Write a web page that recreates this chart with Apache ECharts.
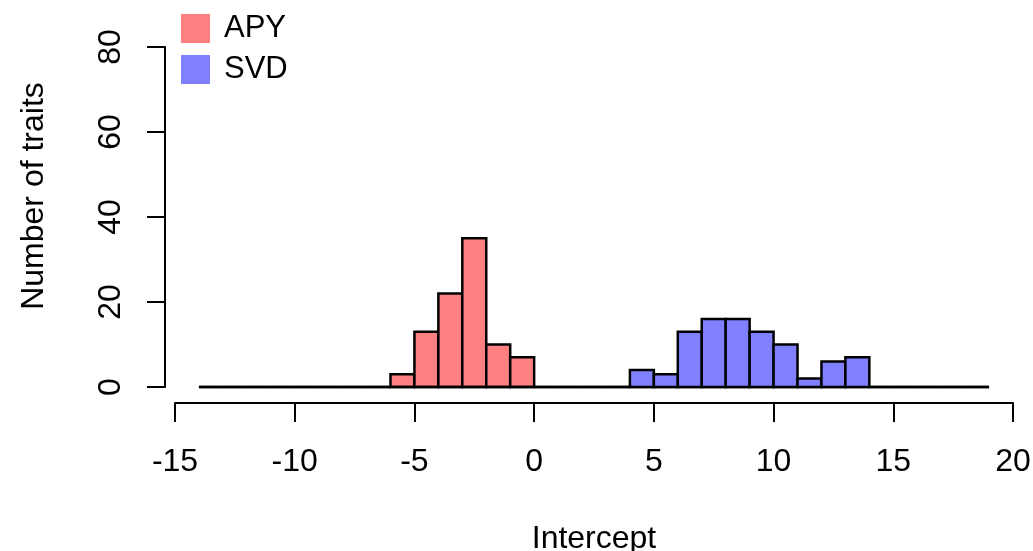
<!DOCTYPE html>
<html>
<head>
<meta charset="utf-8">
<script src="https://cdn.jsdelivr.net/npm/echarts@6/dist/echarts.min.js"></script>
<style>
  html, body { margin: 0; padding: 0; background: #fff; }
  #chart { width: 1033px; height: 551px; }
</style>
</head>
<body>
<div id="chart"></div>
<script>
// histogram bin breaks (width 1) and counts per bin
const breaks = [-14, -13, -12, -11, -10, -9, -8, -7, -6, -5, -4, -3, -2, -1, 0, 1, 2, 3, 4,
  5, 6, 7, 8, 9, 10, 11, 12, 13, 14, 15, 16, 17, 18, 19];
const apyCounts = [0, 0, 0, 0, 0, 0, 0, 0, 3, 13, 22, 35, 10, 7, 0, 0, 0, 0, 0,
  0, 0, 0, 0, 0, 0, 0, 0, 0, 0, 0, 0, 0, 0];
const svdCounts = [0, 0, 0, 0, 0, 0, 0, 0, 0, 0, 0, 0, 0, 0, 0, 0, 0, 0, 4,
  3, 13, 16, 16, 13, 10, 2, 6, 7, 0, 0, 0, 0, 0];
const seriesNames = ["APY", "SVD"];
const xTicks = [-15, -10, -5, 0, 5, 10, 15, 20];
const yTicks = [0, 20, 40, 60, 80];

const FONT = '"Liberation Sans", Arial, Helvetica, sans-serif';

const toBins = (counts) => {
  // [lower edge, upper edge, count]
  return counts.map((c, i) => [breaks[i], breaks[i + 1], c]);
};

const renderBin = (params, api) => {
  const lo = api.value(0);
  const hi = api.value(1);
  const count = api.value(2);
  const p0 = api.coord([lo, count]);
  const p1 = api.coord([hi, 0]);
  if (count === 0) {
    // empty bin: R draws it as a flat line on the baseline
    return {
      type: "line",
      shape: { x1: p0[0], y1: p1[1], x2: p1[0], y2: p1[1] },
      style: { stroke: "#000", lineWidth: 2.5 },
    };
  }
  return {
    type: "rect",
    shape: { x: p0[0], y: p0[1], width: p1[0] - p0[0], height: p1[1] - p0[1] },
    style: { fill: api.visual("color"), stroke: "#000", lineWidth: 2.5 },
  };
};

const chart = echarts.init(document.getElementById("chart"));

const option = {
  animation: false,
  backgroundColor: "#fff",
  textStyle: { fontFamily: FONT, color: "#000" },
  legend: {
    orient: "vertical",
    left: 181,
    top: 13,
    padding: 0,
    itemWidth: 29,
    itemHeight: 29,
    itemGap: 10,
    icon: "rect",
    itemStyle: { borderWidth: 0 },
    textStyle: { fontSize: 31, color: "#000", fontFamily: FONT, padding: [0, 0, 0, 9] },
    data: seriesNames,
  },
  grid: { left: 175, right: 20, top: 47, bottom: 164, outerBoundsMode: "none", containLabel: false },
  xAxis: {
    type: "value",
    min: xTicks[0],
    max: xTicks[xTicks.length - 1],
    interval: 5,
    offset: 16,
    name: "Intercept",
    nameLocation: "middle",
    nameGap: 120,
    nameTextStyle: { fontSize: 32, color: "#000", fontFamily: FONT },
    axisLine: { onZero: false, lineStyle: { color: "#000", width: 2 } },
    axisTick: { length: 19, lineStyle: { color: "#000", width: 2 } },
    axisLabel: { fontSize: 32, color: "#000", fontFamily: FONT, margin: 43 },
    splitLine: { show: false },
  },
  yAxis: {
    type: "value",
    min: yTicks[0],
    max: yTicks[yTicks.length - 1],
    interval: 20,
    offset: 10,
    name: "Number of traits",
    nameLocation: "middle",
    nameGap: 115,
    nameRotate: 90,
    // left padding pushes the rotated title up a little, as in the original
    nameTextStyle: { fontSize: 32, color: "#000", fontFamily: FONT, padding: [0, 0, 0, 42] },
    axisLine: { show: true, onZero: false, lineStyle: { color: "#000", width: 2 } },
    axisTick: { show: true, length: 18, lineStyle: { color: "#000", width: 2 } },
    axisLabel: { fontSize: 32, color: "#000", fontFamily: FONT, rotate: 90, margin: 38 },
    splitLine: { show: false },
  },
  series: [
    {
      name: seriesNames[0],
      type: "custom",
      itemStyle: { color: "#FF8080" },
      renderItem: renderBin,
      encode: { x: [0, 1], y: 2 },
      data: toBins(apyCounts),
      z: 2,
    },
    {
      name: seriesNames[1],
      type: "custom",
      itemStyle: { color: "#8080FF" },
      renderItem: renderBin,
      encode: { x: [0, 1], y: 2 },
      data: toBins(svdCounts),
      z: 3,
    },
  ],
};

chart.setOption(option);
</script>
</body>
</html>
